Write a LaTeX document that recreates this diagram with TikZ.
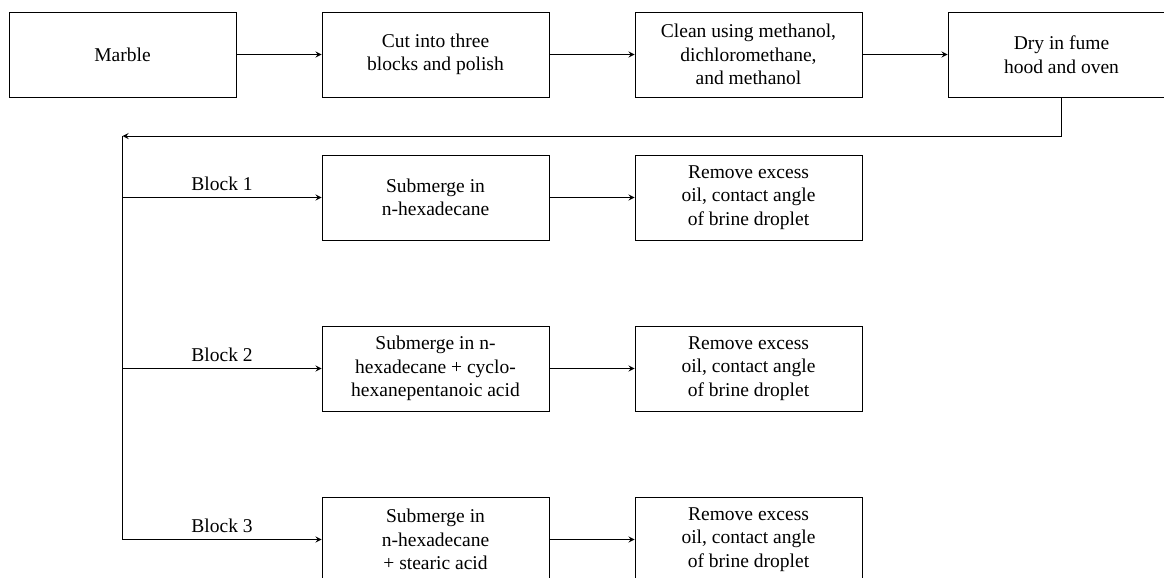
\documentclass[tikz,border=0pt]{standalone}
\usepackage{fontspec}
\setmainfont{Liberation Serif}
\usetikzlibrary{calc}

\begin{document}
\begin{tikzpicture}[scale=1, transform shape, >=stealth]
    % Define styles
    \tikzset{stage/.style={draw, thin, minimum width=4.086cm, minimum height=1.53cm, align=center, inner sep=2pt}}

    % Define spacing
    \def\colStep{5.634}
    \def\splitX{2.205}

    % Fix the visible area
    \useasboundingbox (0,0) rectangle (20.952,-10.386);

    % Draw the preparation row
    \node[stage] (marble) at (\splitX,-0.981) {Marble};
    \node[stage] (cut) at ($(marble)+(\colStep,0)$) {Cut into three\\blocks and polish};
    \node[stage] (clean) at ($(cut)+(\colStep,0)$) {Clean using methanol,\\dichloromethane,\\and methanol};
    \node[stage] (dry) at ($(clean)+(\colStep,0)$) {Dry in fume\\hood and oven};

    \draw[->] (marble) -- (cut);
    \draw[->] (cut) -- (clean);
    \draw[->] (clean) -- (dry);

    % Define coordinates for the split line
    \coordinate (split) at (\splitX,-2.448);
    \coordinate (splitEnd) at (\splitX,-9.711);

    % Draw the return line and the split line
    \draw[->] (dry.south) |- (split);
    \draw (split) -- (splitEnd);

    % Draw the three blocks
    \foreach \i/\y/\txt in {1/-3.555/{Submerge in\\n-hexadecane},
                            2/-6.633/{Submerge in n-\\hexadecane + cyclo-\\hexanepentanoic acid},
                            3/-9.711/{Submerge in\\n-hexadecane\\+ stearic acid}}
    {
        \node[stage] (sub\i) at ($(cut)+(0,\y+0.981)$) {\txt};
        \node[stage] (rem\i) at ($(sub\i)+(\colStep,0)$) {Remove excess\\oil, contact angle\\of brine droplet};
        \draw[->] (split |- sub\i.west) -- (sub\i.west) node[midway, above] {Block \i};
        \draw[->] (sub\i) -- (rem\i);
    }

\end{tikzpicture}
\end{document}
